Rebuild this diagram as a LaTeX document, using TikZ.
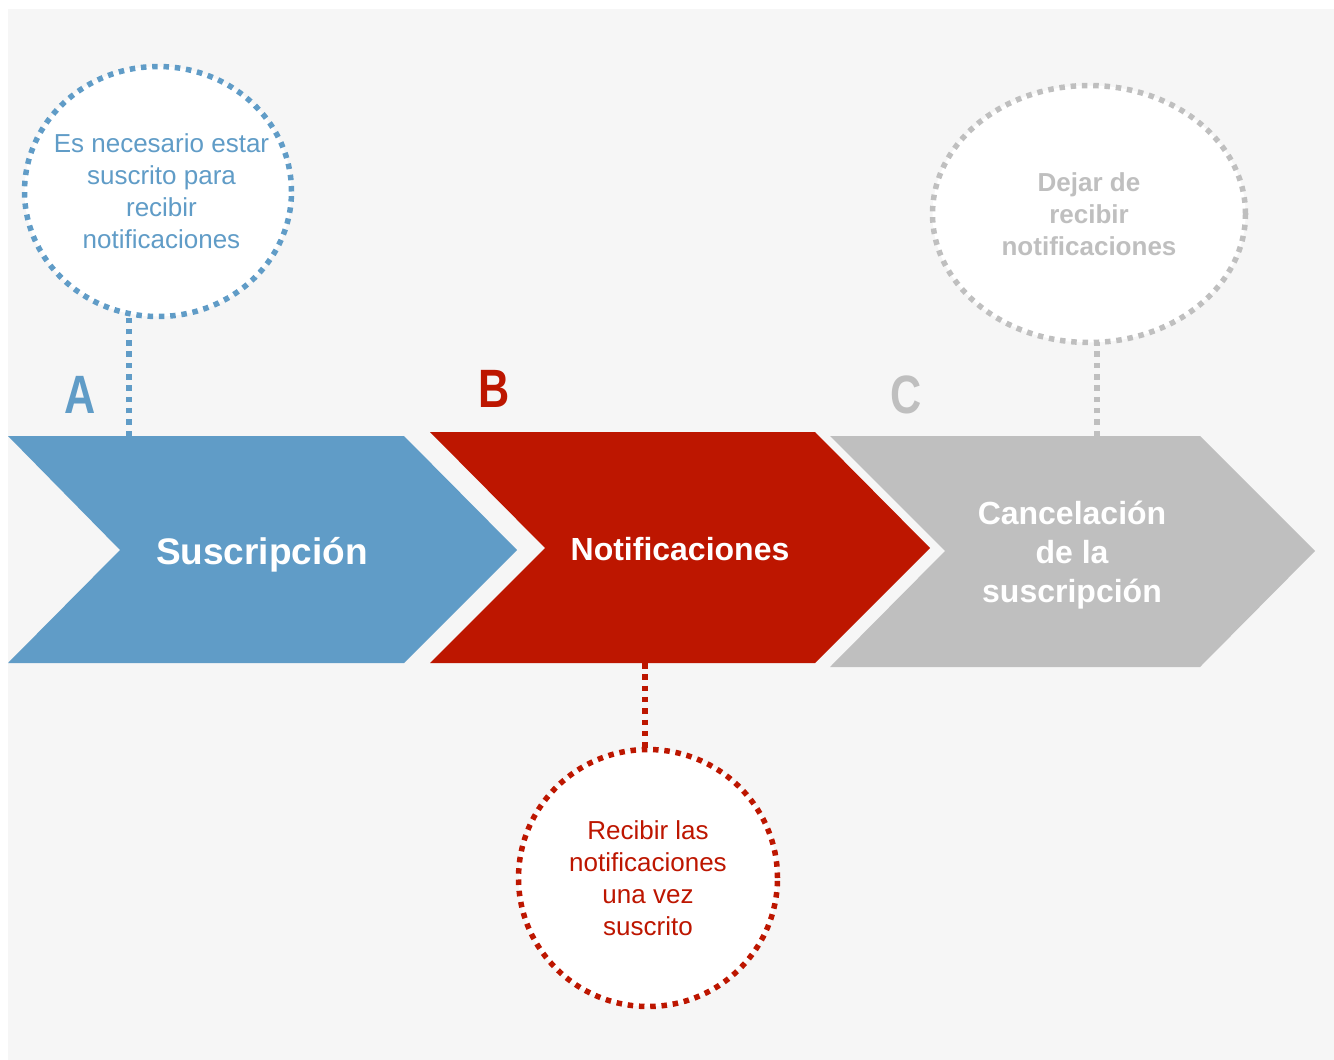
\documentclass[tikz,border=0pt]{standalone}
\usepackage{fontspec}
\setmainfont{Liberation Sans}
\usetikzlibrary{shapes.geometric}
\definecolor{cblue}{HTML}{609CC7}
\definecolor{cred}{HTML}{BD1600}
\definecolor{cgray}{HTML}{BFBFBF}
\definecolor{cbg}{HTML}{F6F6F6}
\begin{document}
\begin{tikzpicture}[x=1pt,y=-1pt,
  bubble/.style={ellipse, fill=white, line width=5.5pt, dash pattern=on 5.5pt off 5.8pt,
    inner sep=0pt},
  bubbletext/.style={inner sep=0pt, align=center, font=\fontsize{26}{32}\selectfont},
  link/.style={line width=5.5pt, dash pattern=on 5.5pt off 5.8pt},
  letter/.style={font=\fontsize{54}{54}\selectfont\bfseries, inner sep=0pt},
  chevtext/.style={text=white, inner sep=0pt, align=center}]
\useasboundingbox (0,0) rectangle (1334,1060);
\fill[cbg] (8,9) rectangle (1334,1060);
% chevrons
\fill[cblue] (8,436) -- (404,436) -- (517,550) -- (404,663) -- (8,663) -- (120,550) -- cycle;
\fill[cred] (430,432) -- (815,432) -- (930,548) -- (815,663) -- (430,663) -- (545,548) -- cycle;
\fill[cgray] (830,436) -- (1200,436) -- (1315,551) -- (1200,667) -- (830,667) -- (945,551) -- cycle;
\coordinate (aTop) at (129,436);
\coordinate (bBot) at (645,663);
\coordinate (cTop) at (1097,436);
% chevron texts
\node[chevtext, anchor=base, font=\fontsize{37}{44}\selectfont\bfseries] (tA) at (262,564) {Suscripción};
\node[chevtext, anchor=base, font=\fontsize{32}{39}\selectfont\bfseries] (tB) at (680,560) {Notificaciones};
\node[chevtext, font=\fontsize{32}{39}\selectfont\bfseries] (tC) at (1072,555) {Cancelación\\de la\\suscripción};
% letters
\node[letter, text=cblue] (lA) at (80,395) {\scalebox{0.8}[1]{A}};
\node[letter, text=cred] (lB) at (494,389) {\scalebox{0.8}[1]{B}};
\node[letter, text=cgray] (lC) at (906,395) {\scalebox{0.8}[1]{C}};
% connectors (behind bubbles)
\path (158,191.5) coordinate (pA) (1089,214) coordinate (pC) (648,878) coordinate (pB);
\path (pA) node[ellipse, inner sep=0pt, minimum width=267pt, minimum height=250pt] (gA) {};
\path (pB) node[ellipse, inner sep=0pt, minimum width=259pt, minimum height=257pt] (gB) {};
\path (pC) node[ellipse, inner sep=0pt, minimum width=313pt, minimum height=257pt] (gC) {};
\draw[link, cblue] (aTop) -- (aTop |- gA.center);
\draw[link, cred] (bBot) -- (bBot |- gB.center);
\draw[link, cgray] (cTop) -- (cTop |- gC.center);
% bubbles
\node[bubble, draw=cblue, minimum width=267pt, minimum height=250pt] (bA) at (pA) {};
\node[bubble, draw=cgray, minimum width=313pt, minimum height=257pt] (bC) at (pC) {};
\node[bubble, draw=cred, minimum width=259pt, minimum height=257pt] (bB) at (pB) {};
% bubble texts
\node[bubbletext, text=cblue] (xA) at ([xshift=3.5pt]bA.center)
  {Es necesario estar\\suscrito para\\recibir\\notificaciones};
\node[bubbletext, text=cgray, font=\fontsize{26}{32}\selectfont\bfseries] (xC) at (bC.center)
  {Dejar de\\recibir\\notificaciones};
\node[bubbletext, text=cred] (xB) at (bB.center)
  {Recibir las\\notificaciones\\una vez\\suscrito};
\end{tikzpicture}
\end{document}
